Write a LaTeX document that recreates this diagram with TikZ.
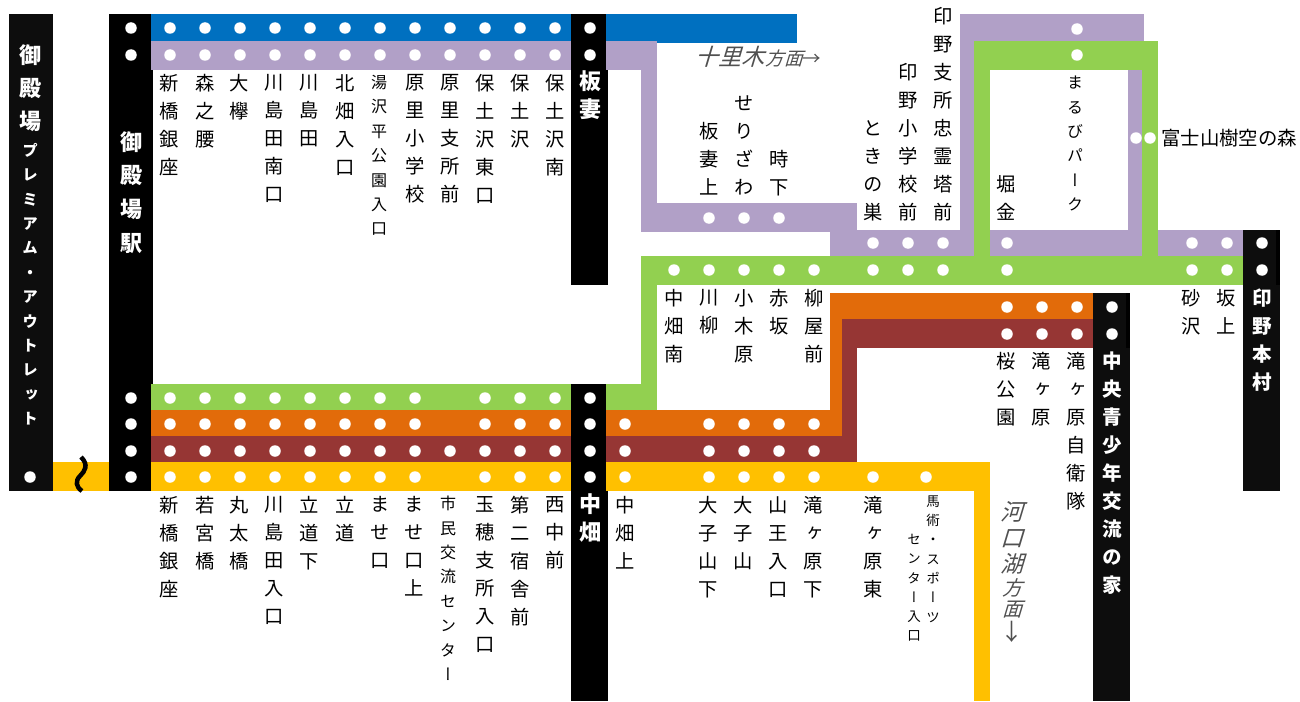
\documentclass[tikz,border=0pt]{standalone}
\usepackage{fontspec}
\usepackage{xcolor}
\setmainfont[Script=Kana,RawFeature=+vert]{Noto Sans CJK JP}
\newfontfamily\flatfont{Noto Sans CJK JP}
\newfontfamily\slantfont[FakeSlant=0.3]{Noto Sans CJK JP}
\definecolor{lineblue}{HTML}{0070C0}
\definecolor{linepurple}{HTML}{B1A0C7}
\definecolor{linegreen}{HTML}{92D050}
\definecolor{lineorange}{HTML}{E26B0A}
\definecolor{linebrown}{HTML}{963634}
\definecolor{lineyellow}{HTML}{FFC000}
\definecolor{barblack}{HTML}{0D0D0D}
\definecolor{dirgray}{HTML}{505050}
\tikzset{
    stop/.style={circle, fill=white, inner sep=0pt, minimum size=11.5pt},
    vstack/.style={inner sep=0pt, align=center, execute at begin node=\strut, execute at end node=\strut},
    stn/.style={vstack, font=\fontsize{19.3}{28}\selectfont},
    stnsmall/.style={vstack, font=\fontsize{16}{24.4}\selectfont},
    stntiny/.style={vstack, font=\fontsize{13.5}{19.3}\selectfont},
    hub/.style={vstack, text=white, font=\bfseries\fontsize{19.5}{28}\selectfont},
    hubbig/.style={vstack, text=white, font=\bfseries\fontsize{22}{28}\selectfont},
    hubwide/.style={vstack, text=white, font=\bfseries\fontsize{22}{33.8}\selectfont},
    hubsmall/.style={vstack, text=white, font=\bfseries\fontsize{15.5}{24.4}\selectfont}
}
\begin{document}
\begin{tikzpicture}[x=1pt, y=-1pt]
    \useasboundingbox (0,0) rectangle (1300,701);

    \fill[black] (109,14) rectangle (153,491);
    \fill[black] (571,14) rectangle (608,285);
    \fill[black] (571,384) rectangle (608,701);

    \fill[lineblue] (151,14) rectangle (571,41);
    \fill[lineblue] (606,14) rectangle (797,43);

    \fill[linepurple] (151,41) rectangle (571,70);
    \fill[linepurple] (606,41) rectangle (657,70);
    \fill[linepurple] (641,41) rectangle (657,232);
    \fill[linepurple] (641,203) rectangle (857,232);
    \fill[linepurple] (830,230) rectangle (974,256);
    \fill[linepurple] (960,14) rectangle (974,256);
    \fill[linepurple] (960,14) rectangle (1144,41);
    \fill[linepurple] (988,230) rectangle (1142,256);
    \fill[linepurple] (1128,67) rectangle (1142,256);
    \fill[linepurple] (1155,230) rectangle (1243,256);

    \fill[linegreen] (974,41) rectangle (1158,70);
    \fill[linegreen] (974,41) rectangle (990,256);
    \fill[linegreen] (1142,41) rectangle (1158,256);
    \fill[linegreen] (641,256) rectangle (1243,285);
    \fill[linegreen] (641,256) rectangle (657,410);
    \fill[linegreen] (606,384) rectangle (657,410);
    \fill[linegreen] (151,384) rectangle (571,410);

    \fill[lineorange] (151,410) rectangle (571,436);
    \fill[lineorange] (606,410) rectangle (842,436);
    \fill[lineorange] (830,293) rectangle (842,436);
    \fill[lineorange] (830,293) rectangle (1093,319);

    \fill[linebrown] (151,436) rectangle (571,462);
    \fill[linebrown] (606,436) rectangle (857,462);
    \fill[linebrown] (842,319) rectangle (857,436);
    \fill[linebrown] (842,319) rectangle (1093,348);

    \fill[lineyellow] (51,462) rectangle (109,491);
    \fill[lineyellow] (151,462) rectangle (571,491);
    \fill[lineyellow] (606,462) rectangle (990,491);
    \fill[lineyellow] (974,462) rectangle (990,701);

    \fill[barblack] (9,14) rectangle (53,491);
    \fill[barblack] (1243,230) rectangle (1280,491);
    \fill[black] (1276,230) rectangle (1280,285);
    \fill[barblack] (1093,293) rectangle (1130,701);
    \fill[black] (1126,293) rectangle (1130,348);

    \draw[line width=4.5pt] (81,457) .. controls (89,465) and (85,471) .. (80,476) .. controls (75,481) and (76,487) .. (82,491);

    \foreach \x in {131,170,205,240,275,310,345,380,415,450,485,520,555,590}
        \node[stop] (top\x) at (\x,28) {};
    \foreach \x in {131,170,205,240,275,310,345,380,415,450,485,520,555,590}
        \node[stop] (sub\x) at (\x,55) {};
    \foreach \x in {131,170,205,240,275,310,345,380,415,485,520,555,590}
        \node[stop] (grn\x) at (\x,398) {};
    \foreach \x in {131,170,205,240,275,310,345,380,415,485,520,555,590,625,709,744,779,814}
        \node[stop] (org\x) at (\x,424) {};
    \foreach \x in {131,170,205,240,275,310,345,380,415,450,485,520,555,590,625,709,744,779,814}
        \node[stop] (brn\x) at (\x,451) {};
    \foreach \x in {30,131,170,205,240,275,310,345,380,415,485,520,555,590,625,709,744,779,814,873,926}
        \node[stop] (yel\x) at (\x,477) {};
    \foreach \x in {709,744,779}
        \node[stop] (pur\x) at (\x,218) {};
    \foreach \x in {873,908,943,1007,1192,1227,1262}
        \node[stop] (mid\x) at (\x,243) {};
    \foreach \x in {674,709,744,779,814,873,908,943,1007,1192,1227,1262}
        \node[stop] (low\x) at (\x,270) {};
    \foreach \x in {1007,1042,1077,1112}
        \node[stop] (cen\x) at (\x,307) {};
    \foreach \x in {1007,1042,1077,1112}
        \node[stop] (cbr\x) at (\x,334) {};
    \node[stop] (park1) at (1077,29) {};
    \node[stop] (park2) at (1077,55) {};
    \node[stop] (forest1) at (1136,138) {};
    \node[stop] (forest2) at (1150,138) {};

    \node[hubbig, font=\bfseries\fontsize{22}{33}\selectfont, anchor=north] (gotemba) at (30,44) {御\\殿\\場};
    \node[hubsmall, anchor=north] (outlet) at (30,143) {プ\\レ\\ミ\\ア\\ム\\・\\ア\\ウ\\ト\\レ\\ッ\\ト};
    \node[hubwide, anchor=north] (gotembaeki) at (131,131) {御\\殿\\場\\駅};
    \node[hubbig, anchor=north] (itazuma) at (590,70) {板\\妻};
    \node[hubbig, anchor=north] (nakahata) at (590,493) {中\\畑};
    \node[hub, anchor=north] (innohon) at (1262,289) {印\\野\\本\\村};
    \node[hub, anchor=north] (chuo) at (1112,352) {中\\央\\青\\少\\年\\交\\流\\の\\家};

    \node[stn, anchor=north] (a1) at (169,74) {新\\橋\\銀\\座};
    \node[stn, anchor=north] (a2) at (205,74) {森\\之\\腰};
    \node[stn, anchor=north] (a3) at (239,74) {大\\欅};
    \node[stn, anchor=north] (a4) at (274,74) {川\\島\\田\\南\\口};
    \node[stn, anchor=north] (a5) at (309,74) {川\\島\\田};
    \node[stn, anchor=north] (a6) at (345,74) {北\\畑\\入\\口};
    \node[stnsmall, anchor=north] (a7) at (379,75) {湯\\沢\\平\\公\\園\\入\\口};
    \node[stn, anchor=north] (a8) at (415,74) {原\\里\\小\\学\\校};
    \node[stn, anchor=north] (a9) at (450,74) {原\\里\\支\\所\\前};
    \node[stn, anchor=north] (a10) at (485,74) {保\\土\\沢\\東\\口};
    \node[stn, anchor=north] (a11) at (520,74) {保\\土\\沢};
    \node[stn, anchor=north] (a12) at (555,74) {保\\土\\沢\\南};

    \node[stn, anchor=north] (b1) at (169,496) {新\\橋\\銀\\座};
    \node[stn, anchor=north] (b2) at (205,496) {若\\宮\\橋};
    \node[stn, anchor=north] (b3) at (239,496) {丸\\太\\橋};
    \node[stn, anchor=north] (b4) at (274,496) {川\\島\\田\\入\\口};
    \node[stn, anchor=north] (b5) at (309,496) {立\\道\\下};
    \node[stn, anchor=north] (b6) at (345,496) {立\\道};
    \node[stn, anchor=north] (b7) at (380,496) {ま\\せ\\口};
    \node[stn, anchor=north] (b8) at (414,496) {ま\\せ\\口\\上};
    \node[stnsmall, anchor=north] (b9) at (448,496) {市\\民\\交\\流\\セ\\ン\\タ\\ー};
    \node[stn, anchor=north] (b10) at (485,496) {玉\\穂\\支\\所\\入\\口};
    \node[stn, anchor=north] (b11) at (520,496) {第\\二\\宿\\舎\\前};
    \node[stn, anchor=north] (b12) at (555,496) {西\\中\\前};

    \node[stn, anchor=north] (c1) at (625,496) {中\\畑\\上};
    \node[stn, anchor=north] (c2) at (708,496) {大\\子\\山\\下};
    \node[stn, anchor=north] (c3) at (743,496) {大\\子\\山};
    \node[stn, anchor=north] (c4) at (778,496) {山\\王\\入\\口};
    \node[stn, anchor=north] (c5) at (813,496) {滝\\ヶ\\原\\下};
    \node[stn, anchor=north] (c6) at (873,496) {滝\\ヶ\\原\\東};
    \node[stntiny, anchor=north] (c7) at (933,495.5) {馬\\術\\・\\ス\\ポ\\ー\\ツ};
    \node[stntiny, anchor=north] (c8) at (914,534) {セ\\ン\\タ\\ー\\入\\口};

    \node[stn, anchor=north] (d1) at (674,289) {中\\畑\\南};
    \node[stn, anchor=north] (d2) at (709,289) {川\\柳};
    \node[stn, anchor=north] (d3) at (744,289) {小\\木\\原};
    \node[stn, anchor=north] (d4) at (779,289) {赤\\坂};
    \node[stn, anchor=north] (d5) at (814,289) {柳\\屋\\前};
    \node[stn, anchor=north] (d6) at (1191,289) {砂\\沢};
    \node[stn, anchor=north] (d7) at (1226,289) {坂\\上};
    \node[stn, anchor=north] (e1) at (1006,352) {桜\\公\\園};
    \node[stn, anchor=north] (e2) at (1041,352) {滝\\ヶ\\原};
    \node[stn, anchor=north] (e3) at (1076,352) {滝\\ヶ\\原\\自\\衛\\隊};

    \node[stn, anchor=south] (f1) at (709,203) {板\\妻\\上};
    \node[stn, anchor=south] (f2) at (744,203) {せ\\り\\ざ\\わ};
    \node[stn, anchor=south] (f3) at (779,203) {時\\下};
    \node[stn, anchor=south] (f4) at (873,228) {と\\き\\の\\巣};
    \node[stn, anchor=south] (f5) at (908,228) {印\\野\\小\\学\\校\\前};
    \node[stn, anchor=south] (f6) at (943,228) {印\\野\\支\\所\\忠\\霊\\塔\\前};
    \node[stn, anchor=south] (f7) at (1006,228) {堀\\金};
    \node[stnsmall, anchor=north] (f8) at (1075,76) {ま\\る\\び\\パ\\ー\\ク};

    \node[inner sep=0pt, anchor=west, font=\flatfont\fontsize{19.4}{24}\selectfont] (forest) at (1161,138) {富士山樹空の森};
    \node[inner sep=0pt, anchor=west, text=dirgray, font=\slantfont\fontsize{23}{24}\selectfont] (juriki) at (695,57) {十里木\hspace{1.5pt}{\fontsize{18.5}{24}\selectfont 方面{\flatfont →}}};
    \node[vstack, anchor=north, text=dirgray, font=\slantfont\fontsize{23}{26}\selectfont] (kawaguchi) at (1012,501) {河\\口\\湖\\[-3pt]{\fontsize{20}{22}\selectfont 方}\\[-5pt]{\fontsize{20}{22}\selectfont 面}\\[-2pt]{\flatfont ↓}};
\end{tikzpicture}
\end{document}
